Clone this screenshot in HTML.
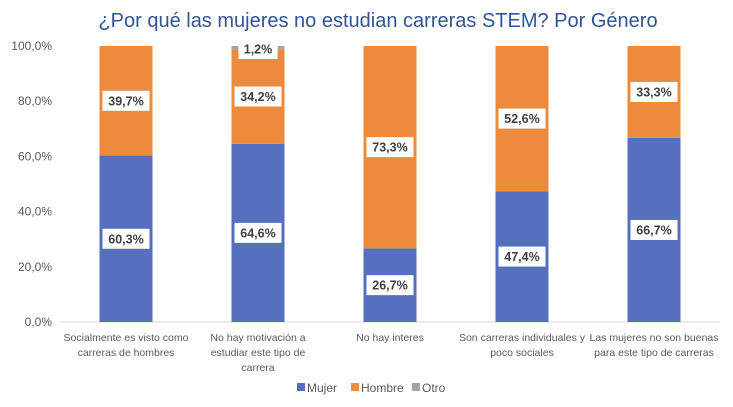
<!DOCTYPE html>
<html><head><meta charset="utf-8"><style>
body{margin:0;background:#fff;font-family:"Liberation Sans",sans-serif;}
svg text{font-family:"Liberation Sans",sans-serif;}
</style></head><body>
<svg id="chart" width="733" height="402" viewBox="0 0 733 402" xmlns="http://www.w3.org/2000/svg">
<rect width="733" height="402" fill="#fff"/>
<text x="378" y="27" text-anchor="middle" font-size="20" fill="#2f5597">¿Por qué las mujeres no estudian carreras STEM?  Por Género</text>
<g id="axes"></g><g id="bars"></g><g id="labels"></g>
<g font-size="12" fill="#595959">
<g><rect x="297" y="383" width="8" height="8" fill="#5571be"/><text x="307" y="392">Mujer</text></g>
<g><rect x="351" y="383" width="8" height="8" fill="#ed8a3b"/><text x="361" y="392">Hombre</text></g>
<g><rect x="412" y="383" width="8" height="8" fill="#a5a5a5"/><text x="422" y="392">Otro</text></g>
</g>
</svg>
<script>
const categories=[["Socialmente es visto como","carreras de hombres"],["No hay motivación a","estudiar este tipo de","carrera"],["No hay interes"],["Son carreras individuales y","poco sociales"],["Las mujeres no son buenas","para este tipo de carreras"]];
const mujer=[60.3,64.6,26.7,47.4,66.7];
const hombre=[39.7,34.2,73.3,52.6,33.3];
const otro=[0,1.2,0,0,0];
const ticks=[0,20,40,60,80,100];
const tickLabels=["0,0%","20,0%","40,0%","60,0%","80,0%","100,0%"];
const NS="http://www.w3.org/2000/svg";
const x0=60,x1=720,yTop=46,yBot=322,band=(x1-x0)/categories.length,bw=53;
const y=v=>yBot-(v/100)*(yBot-yTop);
const xc=i=>x0+band*(i+0.5);
function mk(t,a,p){const e=document.createElementNS(NS,t);for(const k in a)e.setAttribute(k,a[k]);p.appendChild(e);return e;}
const axes=document.getElementById('axes'),bars=document.getElementById('bars'),labels=document.getElementById('labels');
ticks.forEach((t,i)=>{const tx=mk('text',{x:52,y:y(t)+4,'text-anchor':'end','font-size':12,fill:'#595959'},axes);tx.textContent=tickLabels[i];

});
const base=mk('line',{x1:x0,x2:x1,y1:yBot,y2:yBot,stroke:'#d9d9d9'},axes);


categories.forEach((c,i)=>{c.forEach((ln,j)=>{const t=mk('text',{x:xc(i),y:341+j*15,'text-anchor':'middle','font-size':10.5,fill:'#595959'},axes);t.textContent=ln;

});});
const series=[[mujer,'#5571be','mujer'],[hombre,'#ed8a3b','hombre'],[otro,'#a5a5a5','otro']];
categories.forEach((c,i)=>{let cum=0;series.forEach(([arr,col,nm])=>{const v=arr[i];if(v<=0)return;
const r=mk('rect',{x:xc(i)-bw/2,y:y(cum+v),width:bw,height:y(cum)-y(cum+v),fill:col},bars);


const txt=String(v.toFixed(1)).replace('.',',')+'%';
const cy=nm==='otro'?y(cum+v)+3:(y(cum)+y(cum+v))/2;
const w=txt.length*7.8+8;
const bg=mk('rect',{x:xc(i)-w/2,y:cy-10,width:w,height:20,fill:'#fff'},labels);


const t=mk('text',{x:xc(i),y:cy+4.5,'text-anchor':'middle','font-size':12.5,'font-weight':'bold',fill:'#404040'},labels);t.textContent=txt;


cum+=v;});});
</script>
</body></html>
